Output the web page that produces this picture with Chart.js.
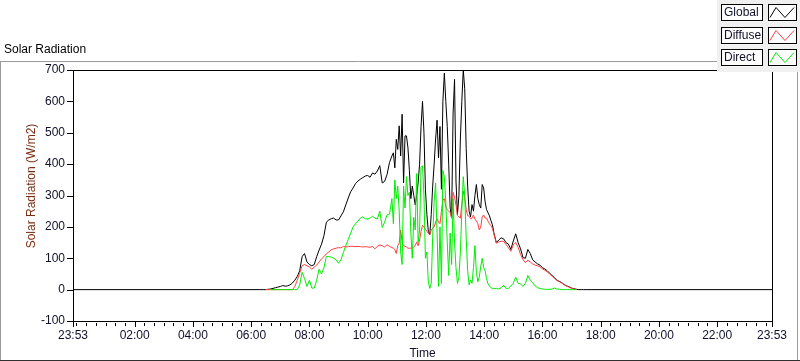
<!DOCTYPE html>
<html>
<head>
<meta charset="utf-8">
<script src="https://cdn.jsdelivr.net/npm/chart.js@4.4.0/dist/chart.umd.min.js"></script>
<style>
html, body { margin: 0; padding: 0; background: #fff; }
canvas { display: block; }
</style>
</head>
<body>
<canvas id="solar" width="800" height="361"></canvas>
<script>
const chartTitle = "Solar Radiation";
const yTitle = "Solar Radiation (W/m2)";
const xTitle = "Time";
const seriesNames = ["Global", "Diffuse", "Direct"];
const seriesColors = ["#000000", "#ff4040", "#00ee00"];

// sample times of the day (W/m2 readings below line up with these)
const sampleTimes = [
	"06:20", "06:25", "06:30", "06:35", "06:40", "06:45", "06:50", "06:55",
	"07:00", "07:05", "07:10", "07:15", "07:20", "07:25", "07:30", "07:35", "07:40", "07:45", "07:50", "07:55",
	"08:00", "08:05", "08:10", "08:15", "08:20", "08:25", "08:30", "08:35", "08:40", "08:45", "08:50", "08:55",
	"09:00", "09:05", "09:10", "09:15", "09:20", "09:25", "09:30", "09:35", "09:40", "09:45", "09:50", "09:55",
	"10:00", "10:05", "10:10", "10:15", "10:20", "10:25", "10:30", "10:35", "10:40", "10:45", "10:50",
	"10:53", "10:56", "10:59",
	"11:02", "11:05", "11:08", "11:11", "11:14", "11:17", "11:20", "11:23", "11:26", "11:29",
	"11:32", "11:35", "11:38", "11:41", "11:44", "11:47", "11:50", "11:53", "11:56", "11:59",
	"12:02", "12:05", "12:08", "12:11", "12:14", "12:17", "12:20", "12:23", "12:26", "12:29",
	"12:32", "12:35", "12:38", "12:41", "12:44", "12:47", "12:50", "12:53", "12:56", "12:59",
	"13:02", "13:05", "13:08", "13:11", "13:14", "13:17", "13:20", "13:23", "13:26", "13:29",
	"13:32", "13:35", "13:38", "13:41", "13:44", "13:47", "13:50", "13:53", "13:56", "13:59",
	"14:02", "14:05", "14:08", "14:11", "14:14", "14:17", "14:20",
	"14:25", "14:30", "14:35", "14:40", "14:45", "14:50", "14:55",
	"15:00", "15:05", "15:10", "15:15", "15:20", "15:25", "15:30", "15:35", "15:40", "15:45", "15:50", "15:55",
	"16:00", "16:05", "16:10", "16:15", "16:20", "16:25", "16:30", "16:35", "16:40", "16:45", "16:50", "16:55",
	"17:00", "17:05", "17:10", "17:15", "17:20", "17:25", "17:30"
];

const globalValues = [
	0, 0, 0, 1, 2, 4, 6, 8,
	10, 13, 11, 12, 15, 21, 30, 42, 60, 105, 115, 88,
	80, 76, 80, 105, 126, 145, 172, 215, 222, 226, 228, 222,
	222, 235, 248, 270, 292, 312, 324, 338, 346, 352, 357, 362,
	364, 358, 372, 368, 378, 395, 340, 345, 367, 405, 426,
	436, 388, 479,
	447, 522, 426, 559, 340, 490, 490, 452, 380, 290,
	330, 300, 270, 300, 340, 400, 520, 600, 500, 320,
	240, 186, 175, 240, 330, 400, 480, 540, 420, 520,
	320, 600, 690, 600, 520, 400, 260, 228, 560, 670,
	346, 239, 300, 480, 600, 700, 640, 450, 330, 250,
	232, 271, 250, 300, 335, 290, 271, 260, 335, 324,
	280, 255, 245, 235, 220, 207, 182,
	150, 158, 165, 162, 150, 145, 128,
	155, 178, 150, 130, 102, 100, 128, 115, 95, 88, 82, 78,
	70, 66, 60, 52, 45, 38, 30, 26, 22, 16, 12, 9,
	5, 3, 1, 0, 0, 0, 0
];

const diffuseValues = [
	null, null, 0, 0, 0, 0, 0, 0,
	0, 0, 0, 0, 0, 0, 10, 30, 52, 76, 80, 76,
	72, 65, 72, 78, 88, 98, 105, 114, 120, 127, 130, 132,
	134, 133, 138, 136, 137, 138, 138, 137, 138, 137, 136, 137,
	136, 135, 138, 130, 138, 142, 140, 136, 143, 138, 134,
	132, 128, 115,
	140, 148, 190, 150, 140, 138, 136, 132, 132, 132,
	133, 136, 140, 152, 140, 158, 185, 205, 200, 192,
	186, 180, 175, 190, 196, 200, 215, 226, 215, 210,
	250, 285, 290, 265, 255, 250, 245, 228, 310, 295,
	270, 236, 232, 228, 272, 314, 295, 255, 236, 234,
	226, 228, 238, 224, 220, 210, 190, 200, 232, 238,
	228, 228, 218, 210, 204, 195, 178,
	148, 152, 154, 154, 144, 134, 122,
	143, 150, 135, 112, 96, 86, 94, 88, 82, 78, 76, 73,
	66, 62, 57, 49, 43, 36, 29, 25, 21, 15, 11, 8,
	4, 2, 1, null, null, null, null
];

const directValues = [
	null, null, null, null, 0, 0, 0, 0,
	0, 0, 0, 0, 0, 0, 0, 0, 15, 55, 35, 10,
	30, 5, 5, 30, 65, 50, 70, 106, 105, 104, 100, 95,
	84, 95, 118, 140, 160, 180, 200, 210, 218, 228, 232, 226,
	225, 228, 234, 228, 225, 250, 198, 215, 238, 240, 290,
	210, 350, 290,
	330, 250, 120, 80, 330, 260, 360, 300, 310, 180,
	100, 230, 190, 370, 150, 190, 390, 395, 300, 100,
	120, 25, 4, 20, 170, 280, 340, 180, 10, 200,
	20, 380, 360, 280, 150, 45, 180, 80, 290, 150,
	70, 20, 40, 120, 250, 360, 300, 165, 60, 15,
	30, 20, 70, 140, 55, 25, 40, 75, 100, 70,
	60, 35, 18, 12, 6, 3, 4,
	4, 2, 6, 14, 4, 4, 12,
	20, 40, 20, 18, 10, 20, 45, 30, 22, 12, 6, 4,
	2, 1, 1, 1, 2, 5, 2, 1, 0, 0, 0, 0,
	0, 0, 0, null, null, null, null
];

// global is flat zero through the night, from 23:53 (previous day) to 23:53
const nightGlobal = [0, 0];

// x axis runs in minutes from midnight, 23:53 of the day before is -7
const xRange = [-7, 1433];
const xTickMinutes = [-7, 120, 240, 360, 480, 600, 720, 840, 960, 1080, 1200, 1320, 1433];
const xTickLabels = ["23:53", "02:00", "04:00", "06:00", "08:00", "10:00", "12:00", "14:00", "16:00", "18:00", "20:00", "22:00", "23:53"];
const xMinorStep = 20;
const yRange = [-100, 700];
const yStep = 100;

function toMinutes(hhmm) {
	const parts = hhmm.split(":");
	return parseInt(parts[0]) * 60 + parseInt(parts[1]);
}

function pairUp(values) {
	return values.map((v, i) => ({ x: toMinutes(sampleTimes[i]), y: v }));
}

const globalPoints = [{ x: xRange[0], y: nightGlobal[0] }]
	.concat(pairUp(globalValues))
	.concat([{ x: xRange[1], y: nightGlobal[1] }]);

const fontName = "'Liberation Sans', Arial, sans-serif";
const textColor = "#10102a";

const labviewFrame = {
	id: "labviewFrame",
	beforeDraw(chart) {
		const ctx = chart.ctx;
		ctx.save();
		ctx.fillStyle = "#ffffff";
		ctx.fillRect(0, 0, chart.width, chart.height);
		ctx.restore();
	},
	afterDraw(chart) {
		const ctx = chart.ctx;
		const a = chart.chartArea;
		const xs = chart.scales.x;
		const ys = chart.scales.y;
		ctx.save();
		ctx.lineWidth = 1;

		// outer panel
		ctx.strokeStyle = "#9a9a9a";
		ctx.beginPath();
		ctx.moveTo(0, 61.5);
		ctx.lineTo(717, 61.5);
		ctx.moveTo(0.5, 61.5);
		ctx.lineTo(0.5, 361);
		ctx.moveTo(797.5, 72);
		ctx.lineTo(797.5, 361);
		ctx.stroke();
		ctx.strokeStyle = "#303030";
		ctx.beginPath();
		ctx.moveTo(0, 360.5);
		ctx.lineTo(800, 360.5);
		ctx.stroke();

		// plot frame
		ctx.strokeStyle = "#000000";
		ctx.strokeRect(Math.round(a.left) + 0.5, Math.round(a.top) + 0.5, Math.round(a.right - a.left), Math.round(a.bottom - a.top));

		// y ticks
		ctx.beginPath();
		ys.ticks.forEach((t) => {
			const py = Math.round(ys.getPixelForValue(t.value)) + 0.5;
			ctx.moveTo(a.left - 6, py);
			ctx.lineTo(a.left, py);
		});
		ctx.stroke();

		// x ticks, minor every 20 minutes and the labelled ones longer
		const base = Math.round(a.bottom) + 1;
		ctx.beginPath();
		for (let m = 0; m < xRange[1]; m += xMinorStep) {
			const px = Math.round(xs.getPixelForValue(m)) + 0.5;
			ctx.moveTo(px, base + 1);
			ctx.lineTo(px, base + 4);
		}
		xTickMinutes.forEach((m) => {
			const px = Math.round(xs.getPixelForValue(m)) + 0.5;
			ctx.moveTo(px, base);
			ctx.lineTo(px, base + 5);
		});
		ctx.stroke();

		// graph caption
		ctx.fillStyle = "#000000";
		ctx.font = "12px " + fontName;
		ctx.textBaseline = "middle";
		ctx.textAlign = "left";
		ctx.fillText(chartTitle, 4, 50);

		// y axis name
		ctx.save();
		ctx.translate(32, 186);
		ctx.rotate(-Math.PI / 2);
		ctx.textAlign = "center";
		ctx.fillStyle = "#7a2e12";
		ctx.fillText(yTitle, 0, 0);
		ctx.restore();

		// plot legend
		ctx.fillStyle = "#f0f0f0";
		ctx.fillRect(717, 0, 83, 72);
		chart.data.datasets.forEach((ds, i) => {
			const top = 4 + i * 22.6;
			const y0 = Math.round(top) + 0.5;
			ctx.fillStyle = "#ffffff";
			ctx.fillRect(721, y0, 42, 17);
			ctx.fillRect(768, y0, 29, 17);
			ctx.strokeStyle = "#000000";
			ctx.strokeRect(721.5, y0, 41, 16);
			ctx.strokeRect(768.5, y0, 28, 16);
			ctx.fillStyle = textColor;
			ctx.fillText(ds.label, 724, y0 + 8.5);
			ctx.strokeStyle = ds.borderColor;
			ctx.beginPath();
			ctx.moveTo(770, y0 + 13);
			ctx.lineTo(776, y0 + 3);
			ctx.lineTo(785, y0 + 13);
			ctx.lineTo(794, y0 + 3);
			ctx.stroke();
		});
		ctx.restore();
	}
};

const config_solar = {
	type: "line",
	data: {
		datasets: [
			{ label: seriesNames[0], data: globalPoints, borderColor: seriesColors[0], order: 2 },
			{ label: seriesNames[1], data: pairUp(diffuseValues), borderColor: seriesColors[1], order: 1 },
			{ label: seriesNames[2], data: pairUp(directValues), borderColor: seriesColors[2], order: 0 },
		],
	},
	options: {
		responsive: false,
		animation: false,
		events: [],
		layout: { padding: { left: 0, top: 70, right: 28, bottom: 0 } },
		elements: {
			point: { radius: 0 },
			line: { borderWidth: 1, tension: 0, fill: false },
		},
		plugins: {
			legend: { display: false },
			tooltip: { enabled: false },
			title: { display: false },
		},
		scales: {
			x: {
				type: "linear",
				min: xRange[0],
				max: xRange[1],
				grid: { display: false, drawTicks: false },
				border: { display: false },
				afterBuildTicks: (s) => {
					s.ticks = xTickMinutes.map((v) => ({ value: v }));
				},
				afterFit: (s) => {
					s.height = 40;
				},
				ticks: {
					autoSkip: false,
					maxRotation: 0,
					padding: 7,
					color: textColor,
					font: { family: fontName, size: 12 },
					callback: (v, i) => xTickLabels[i],
				},
				title: {
					display: true,
					text: xTitle,
					color: textColor,
					font: { family: fontName, size: 12 },
					padding: { top: 0, bottom: 0 },
				},
			},
			y: {
				min: yRange[0],
				max: yRange[1],
				grid: { display: false, drawTicks: false },
				border: { display: false },
				afterFit: (s) => {
					s.width = 73;
				},
				ticks: {
					stepSize: yStep,
					padding: 8,
					color: textColor,
					font: { family: fontName, size: 12 },
				},
			},
		},
	},
	plugins: [labviewFrame],
};

new Chart(document.getElementById("solar"), config_solar);
</script>
</body>
</html>
